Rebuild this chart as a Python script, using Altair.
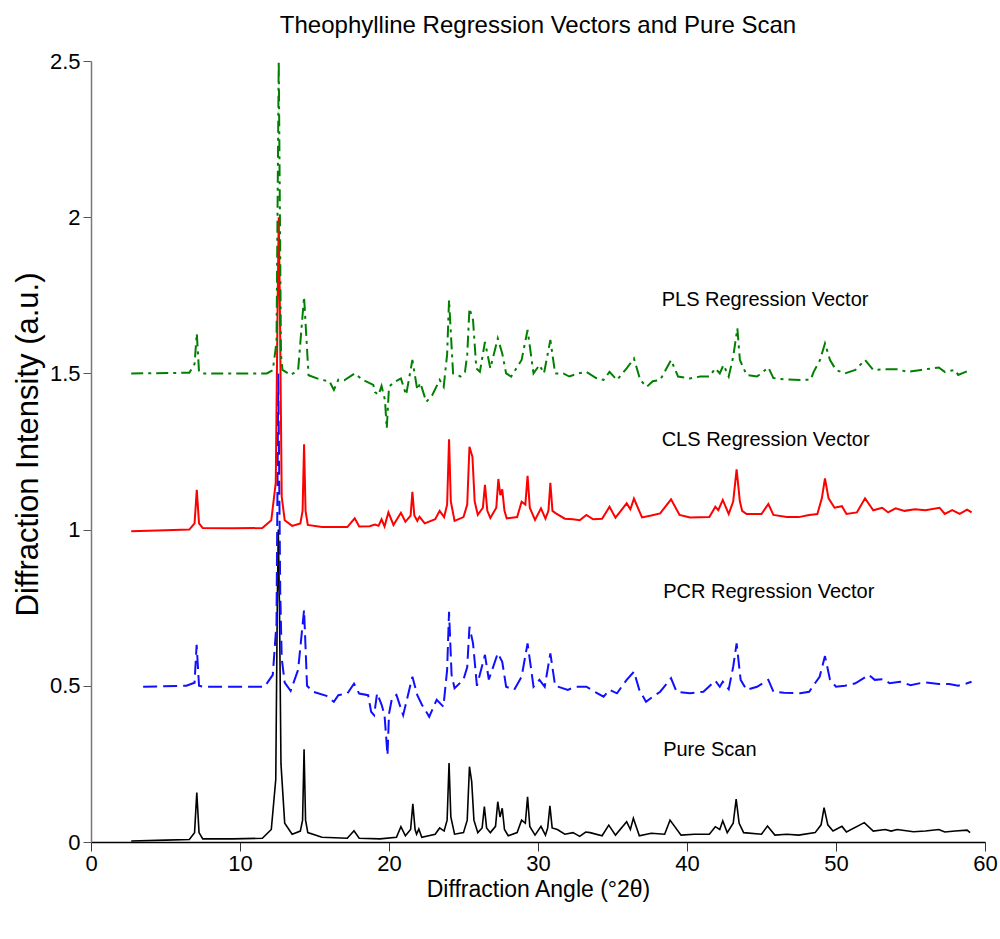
import altair as alt
import pandas as pd

# ---- Pure Scan (black): (angle, intensity) ----
pure_pts = [(2.7, 0.003), (5.0, 0.006), (6.6, 0.008), (6.95, 0.03), (7.1, 0.158), (7.25, 0.03), (7.5, 0.01),
            (9.5, 0.01), (11.5, 0.012), (12.1, 0.04), (12.4, 0.2), (12.5, 0.75), (12.57, 1.0), (12.65, 0.75),
            (12.75, 0.25), (13.0, 0.06),
            (13.5, 0.025), (14.05, 0.035), (14.2, 0.07), (14.3, 0.297), (14.4, 0.07), (14.55, 0.03), (15.5, 0.015),
            (17.2, 0.012), (17.65, 0.036), (18.0, 0.012), (19.4, 0.01), (20.5, 0.015), (20.8, 0.049), (21.1, 0.02),
            (21.45, 0.04), (21.6, 0.122), (21.75, 0.04), (21.85, 0.025), (22.0, 0.042), (22.2, 0.015), (23.1, 0.025),
            (23.4, 0.045), (23.7, 0.035), (23.9, 0.07), (24.03, 0.253), (24.15, 0.08), (24.4, 0.025), (25.0, 0.03),
            (25.25, 0.07), (25.4, 0.241), (25.55, 0.193), (25.7, 0.07), (25.96, 0.03), (26.25, 0.045), (26.4, 0.113),
            (26.55, 0.045), (26.8, 0.03), (27.15, 0.05), (27.3, 0.129), (27.45, 0.08), (27.6, 0.108), (27.75, 0.04),
            (28.0, 0.02), (28.6, 0.03), (28.9, 0.07), (29.15, 0.06), (29.3, 0.145), (29.45, 0.05), (29.8, 0.022),
            (30.2, 0.05), (30.5, 0.022), (30.65, 0.045), (30.8, 0.116), (30.95, 0.045), (31.3, 0.04), (31.8, 0.025),
            (32.35, 0.03), (32.8, 0.018), (33.2, 0.032), (33.5, 0.03), (34.3, 0.02), (34.75, 0.054), (35.2, 0.022),
            (35.95, 0.065), (36.2, 0.04), (36.4, 0.076), (36.8, 0.02), (37.6, 0.028), (38.5, 0.025), (38.86, 0.07),
            (39.6, 0.022), (40.5, 0.025), (41.5, 0.025), (41.9, 0.049), (42.2, 0.04), (42.4, 0.068), (42.7, 0.03),
            (43.1, 0.06), (43.3, 0.137), (43.5, 0.06), (43.8, 0.03), (45.0, 0.025), (45.4, 0.051), (45.9, 0.022),
            (46.7, 0.025), (47.5, 0.022), (48.6, 0.03), (49.0, 0.055), (49.2, 0.11), (49.45, 0.055), (49.8, 0.035),
            (50.4, 0.05), (50.7, 0.032), (51.9, 0.062), (52.5, 0.035), (53.3, 0.04), (53.7, 0.035), (54.1, 0.04),
            (55.2, 0.033), (56.0, 0.035), (56.9, 0.04), (57.3, 0.032), (58.0, 0.035), (58.8, 0.038), (59.0, 0.03)]

# ---- PCR Regression Vector (blue, dashed) ----
pcr_pts = [(3.5, 0.497), (6.4, 0.5), (6.95, 0.51), (7.09, 0.631), (7.25, 0.5), (7.5, 0.497), (11.65, 0.497),
           (12.2, 0.535), (12.45, 0.7), (12.57, 1.5), (12.7, 0.8), (12.8, 0.588), (13.0, 0.51), (13.4, 0.484),
           (13.9, 0.551), (14.3, 0.743), (14.5, 0.5), (14.9, 0.481), (15.8, 0.468), (16.3, 0.449), (16.6, 0.47),
           (17.2, 0.475), (17.65, 0.507), (18.0, 0.475), (18.6, 0.47), (18.8, 0.417), (19.0, 0.406), (19.2, 0.476),
           (19.5, 0.44), (19.7, 0.406), (19.9, 0.278), (20.0, 0.41), (20.2, 0.46), (20.5, 0.471), (20.95, 0.406),
           (21.57, 0.529), (21.9, 0.47), (22.2, 0.44), (22.7, 0.401), (23.2, 0.455), (23.65, 0.433), (23.9, 0.55),
           (24.03, 0.737), (24.2, 0.535), (24.4, 0.492), (25.0, 0.52), (25.25, 0.56), (25.4, 0.689), (25.64, 0.636),
           (25.9, 0.5), (26.44, 0.599), (26.7, 0.52), (27.3, 0.604), (27.6, 0.577), (27.86, 0.497), (28.4, 0.487),
           (28.9, 0.529), (29.3, 0.636), (29.7, 0.497), (30.1, 0.519), (30.45, 0.497), (30.83, 0.604), (31.15, 0.5),
           (32.0, 0.487), (32.5, 0.497), (33.25, 0.497), (33.8, 0.481), (34.4, 0.465), (34.8, 0.487), (35.3, 0.476),
           (35.95, 0.519), (36.44, 0.545), (36.8, 0.487), (37.25, 0.449), (37.7, 0.465), (38.2, 0.481), (38.93, 0.524),
           (39.3, 0.481), (40.2, 0.476), (41.1, 0.481), (41.9, 0.516), (42.2, 0.497), (42.4, 0.513), (42.8, 0.489),
           (43.1, 0.561), (43.33, 0.636), (43.6, 0.519), (44.0, 0.487), (44.7, 0.497), (45.46, 0.519), (45.8, 0.481),
           (46.5, 0.478), (47.6, 0.476), (48.2, 0.481), (48.5, 0.502), (48.9, 0.529), (49.26, 0.595), (49.6, 0.519),
           (50.0, 0.497), (50.6, 0.5), (51.3, 0.508), (52.2, 0.535), (52.6, 0.519), (53.2, 0.521), (53.6, 0.508),
           (54.3, 0.513), (55.0, 0.502), (55.9, 0.511), (56.9, 0.506), (57.6, 0.506), (58.2, 0.5), (58.8, 0.508),
           (59.1, 0.513)]

# ---- CLS Regression Vector (red) ----
cls_pts = [(2.7, 0.995), (5.0, 0.998), (6.6, 1.0), (6.95, 1.02), (7.1, 1.127), (7.25, 1.02), (7.5, 1.005),
           (9.5, 1.004), (11.5, 1.005), (12.1, 1.03), (12.4, 1.15), (12.52, 1.7), (12.6, 2.0), (12.68, 1.7),
           (12.8, 1.105), (13.0, 1.03),
           (13.5, 1.012), (14.05, 1.02), (14.2, 1.06), (14.3, 1.273), (14.4, 1.06), (14.55, 1.015), (15.5, 1.008),
           (17.2, 1.008), (17.7, 1.036), (18.0, 1.01), (18.7, 1.011), (19.06, 1.016), (19.3, 1.012), (19.5, 1.033),
           (19.7, 1.01), (19.96, 1.055), (20.3, 1.015), (20.8, 1.054), (21.1, 1.025), (21.45, 1.045), (21.57, 1.121),
           (21.7, 1.045), (21.9, 1.028), (22.05, 1.041), (22.4, 1.02), (23.1, 1.033), (23.4, 1.06), (23.7, 1.04),
           (23.9, 1.08), (24.03, 1.289), (24.15, 1.09), (24.4, 1.028), (25.0, 1.04), (25.25, 1.08), (25.4, 1.265),
           (25.6, 1.233), (25.75, 1.09), (25.96, 1.047), (26.3, 1.07), (26.44, 1.143), (26.6, 1.06), (26.8, 1.037),
           (27.2, 1.07), (27.34, 1.162), (27.47, 1.11), (27.6, 1.129), (27.75, 1.06), (27.9, 1.036), (28.6, 1.04),
           (28.9, 1.089), (29.15, 1.08), (29.3, 1.172), (29.45, 1.07), (29.8, 1.031), (30.2, 1.068), (30.5, 1.035),
           (30.7, 1.06), (30.83, 1.15), (30.97, 1.06), (31.2, 1.052), (31.8, 1.035), (32.35, 1.033), (32.8, 1.03),
           (33.25, 1.047), (33.7, 1.033), (34.3, 1.035), (34.8, 1.073), (35.2, 1.038), (35.95, 1.084), (36.2, 1.065),
           (36.44, 1.099), (36.98, 1.039), (37.6, 1.045), (38.2, 1.052), (38.93, 1.097), (39.5, 1.047), (40.2, 1.039),
           (41.5, 1.04), (41.9, 1.073), (42.1, 1.062), (42.4, 1.095), (42.8, 1.05), (43.1, 1.09), (43.33, 1.193),
           (43.55, 1.09), (43.7, 1.06), (44.0, 1.05), (45.0, 1.05), (45.46, 1.082), (45.8, 1.047), (46.7, 1.04),
           (47.5, 1.04), (48.2, 1.047), (48.75, 1.05), (49.05, 1.1), (49.26, 1.164), (49.5, 1.1), (49.9, 1.07),
           (50.4, 1.075), (50.7, 1.05), (51.4, 1.055), (51.95, 1.1), (52.5, 1.062), (53.1, 1.07), (53.5, 1.055),
           (54.0, 1.068), (54.6, 1.06), (55.3, 1.065), (56.0, 1.062), (56.95, 1.07), (57.3, 1.05), (57.8, 1.062),
           (58.3, 1.05), (58.8, 1.064), (59.1, 1.055)]

# ---- PLS Regression Vector (green, dash-dot) ----
pls_pts = [(2.7, 1.5), (6.6, 1.502), (6.95, 1.53), (7.1, 1.628), (7.25, 1.505), (7.5, 1.5), (11.8, 1.5),
           (12.2, 1.51), (12.45, 1.6), (12.6, 2.5), (12.75, 1.56), (12.85, 1.511), (13.4, 1.495), (13.9, 1.51),
           (14.3, 1.745), (14.6, 1.494), (15.4, 1.48), (16.0, 1.475), (16.3, 1.447), (16.6, 1.48), (17.0, 1.478),
           (17.7, 1.5), (18.2, 1.48), (18.95, 1.463), (19.06, 1.44), (19.3, 1.431), (19.5, 1.46), (19.73, 1.415),
           (19.85, 1.324), (20.0, 1.457), (20.3, 1.47), (20.8, 1.484), (21.15, 1.431), (21.57, 1.543), (21.9, 1.447),
           (22.1, 1.47), (22.5, 1.409), (22.9, 1.43), (23.4, 1.479), (23.67, 1.457), (23.9, 1.56), (24.03, 1.735),
           (24.3, 1.5), (24.8, 1.49), (25.1, 1.505), (25.25, 1.56), (25.4, 1.708), (25.64, 1.671), (25.86, 1.516),
           (26.1, 1.505), (26.44, 1.601), (26.8, 1.516), (27.3, 1.612), (27.6, 1.564), (27.86, 1.5), (28.2, 1.49),
           (28.9, 1.543), (29.3, 1.639), (29.7, 1.5), (30.1, 1.527), (30.4, 1.5), (30.83, 1.607), (31.15, 1.5),
           (31.7, 1.5), (32.1, 1.49), (32.7, 1.5), (33.25, 1.505), (33.9, 1.485), (34.4, 1.479), (34.8, 1.505),
           (35.3, 1.479), (35.95, 1.516), (36.44, 1.548), (36.86, 1.479), (37.3, 1.457), (37.7, 1.475), (38.2, 1.479),
           (38.93, 1.543), (39.4, 1.49), (40.2, 1.484), (40.9, 1.49), (41.5, 1.49), (41.9, 1.516), (42.2, 1.5),
           (42.45, 1.527), (42.8, 1.49), (43.1, 1.553), (43.38, 1.644), (43.55, 1.543), (44.0, 1.495), (44.7, 1.49),
           (45.46, 1.519), (45.8, 1.485), (46.5, 1.481), (47.6, 1.479), (48.3, 1.48), (48.5, 1.505), (48.93, 1.543),
           (49.26, 1.596), (49.6, 1.543), (50.0, 1.511), (50.6, 1.5), (51.3, 1.511), (51.95, 1.543), (52.5, 1.511),
           (53.2, 1.513), (54.1, 1.513), (54.8, 1.505), (55.7, 1.511), (56.9, 1.519), (57.3, 1.505), (58.0, 1.511),
           (58.2, 1.495), (58.7, 1.505), (59.1, 1.509)]

# ---- Series labels ----
label_text = ["PLS Regression Vector", "CLS Regression Vector", "PCR Regression Vector", "Pure Scan"]
label_x = [38.3, 38.3, 38.4, 38.4]
label_y = [1.735, 1.287, 0.80, 0.294]

FONT = "Liberation Sans, Arial, sans-serif"

xscale = alt.Scale(domain=[0, 60], nice=False, zero=False)
yscale = alt.Scale(domain=[0, 2.5], nice=False, zero=False)


def series(pts, color, width, dash=None):
    df = pd.DataFrame(pts, columns=["x", "y"])
    kw = dict(color=color, strokeWidth=width, clip=True, interpolate="linear")
    if dash:
        kw["strokeDash"] = dash
    return alt.Chart(df).mark_line(**kw).encode(
        x=alt.X("x:Q", scale=xscale),
        y=alt.Y("y:Q", scale=yscale),
        order=alt.Order("x:Q"),
    )


base_axes = alt.Chart(pd.DataFrame({"x": [0.0], "y": [0.0]})).mark_point(opacity=0).encode(
    x=alt.X("x:Q", scale=xscale,
            axis=alt.Axis(title="Diffraction Angle (\u00b02\u03b8)", values=[0, 10, 20, 30, 40, 50, 60],
                          format="d", tickSize=9, tickColor="#333", domainColor="#000", domainWidth=1.5,
                          labelFontSize=22, labelFont=FONT, labelColor="#000", labelPadding=2,
                          labelFlush=False, titleFontSize=23, titleFont=FONT, titleFontWeight="normal",
                          titleColor="#000", titlePadding=4, grid=False)),
    y=alt.Y("y:Q", scale=yscale,
            axis=alt.Axis(title="Diffraction Intensity (a.u.)", values=[0, 0.5, 1, 1.5, 2, 2.5],
                          format="~g", tickSize=8, tickColor="#555", domainColor="#777", domainWidth=1.5,
                          labelFontSize=22, labelFont=FONT, labelColor="#000", labelPadding=3,
                          labelFlush=False, titleFontSize=31, titleFont=FONT, titleFontWeight="normal",
                          titleColor="#000", titlePadding=5, titleY=383, grid=False)),
)

pure = series(pure_pts, "#000000", 1.6)
pcr = series(pcr_pts, "#1010ff", 2.0, [14, 6])
cls = series(cls_pts, "#ff0000", 2.0)
pls = series(pls_pts, "#008000", 2.0, [12, 5, 3, 5])

labels = alt.Chart(pd.DataFrame({"t": label_text, "x": label_x, "y": label_y})).mark_text(
    align="left", baseline="middle", fontSize=20, font=FONT, color="#000"
).encode(x=alt.X("x:Q", scale=xscale), y=alt.Y("y:Q", scale=yscale), text="t:N")

chart = alt.layer(base_axes, pure, pcr, cls, pls, labels).properties(
    width=894,
    height=781,
    title=alt.TitleParams("Theophylline Regression Vectors and Pure Scan", fontSize=24, font=FONT,
                          fontWeight="normal", color="#000", anchor="middle", offset=12),
    autosize=alt.AutoSizeParams(type="none"),
    padding={"left": 91, "top": 61, "right": 15, "bottom": 97},
).configure_view(stroke=None)

chart.save("out.html", embed_options={"renderer": "svg", "actions": False})
